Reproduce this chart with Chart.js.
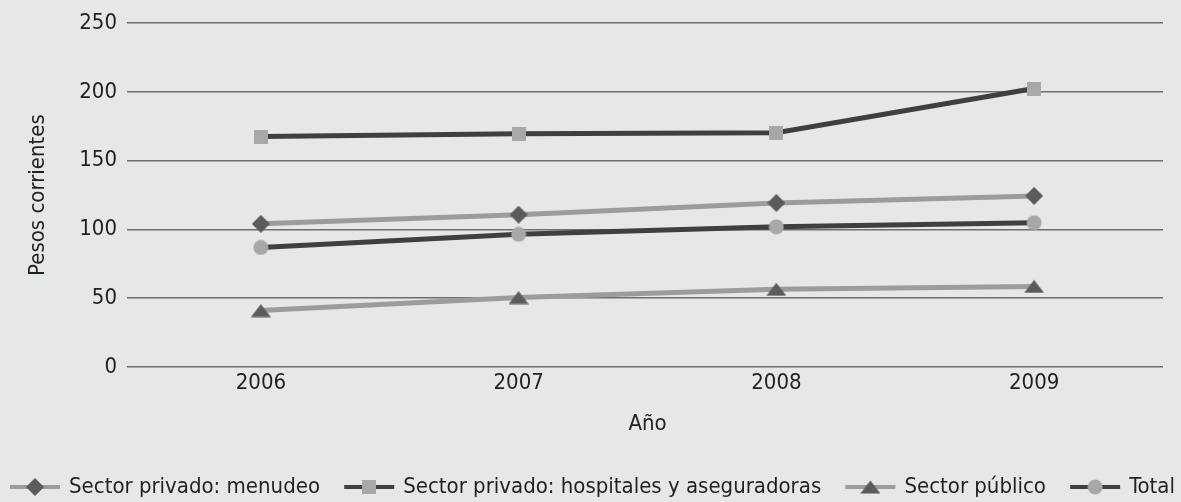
<!DOCTYPE html>
<html lang="es">
<head>
<meta charset="utf-8">
<title>Pesos corrientes por año</title>
<script src="https://cdn.jsdelivr.net/npm/chart.js@4.4.1/dist/chart.umd.min.js"></script>
<style>
  html, body { margin: 0; padding: 0; background: #e6e7e8; }
  #wrap { width: 1181px; height: 502px; }
  canvas { display: block; }
</style>
</head>
<body>
<div id="wrap"><canvas id="chart" width="1181" height="502"></canvas></div>
<script>
// Años y series (pesos corrientes)
const categories = ['2006', '2007', '2008', '2009'];
const menudeo    = [104.1, 110.8, 119.3, 124.4];
const hospitales = [167.6, 169.6, 170.3, 202.5];
const publico    = [41.0, 50.5, 56.5, 58.6];
const total      = [86.9, 96.5, 101.9, 104.9];

const seriesNames = [
  'Sector privado: menudeo',
  'Sector privado: hospitales y aseguradoras',
  'Sector público',
  'Total'
];
const yTicks = [0, 50, 100, 150, 200, 250];
const yTitle = 'Pesos corrientes';
const xTitle = 'Año';

const FONT = '"DejaVu Sans Condensed", "DejaVu Sans", sans-serif';
const FONT_SIZE = 22;
const TEXT = '#231f20';
const GRID = '#6d6e71';
const LIGHT_LINE = '#9b9c9e';
const DARK_LINE = '#3f3f40';
const DARK_MARK = '#5a5b5e';
const LIGHT_MARK = '#a7a8ab';

// Marker sprites used both on the lines and in the legend
function sprite(w, h, draw) {
  const c = document.createElement('canvas');
  c.width = w; c.height = h;
  const g = c.getContext('2d');
  draw(g, w, h);
  return c;
}
const diamond = sprite(18, 18, (g, w, h) => {
  g.fillStyle = DARK_MARK;
  g.beginPath();
  g.moveTo(w / 2, 0); g.lineTo(w, h / 2); g.lineTo(w / 2, h); g.lineTo(0, h / 2);
  g.closePath(); g.fill();
});
const square = sprite(14, 14, (g, w, h) => {
  g.fillStyle = LIGHT_MARK;
  g.fillRect(0, 0, w, h);
});
const triangle = sprite(20, 14, (g, w, h) => {
  g.fillStyle = DARK_MARK;
  g.beginPath();
  g.moveTo(w / 2, 0.5); g.lineTo(w, h - 0.5); g.lineTo(0, h - 0.5);
  g.closePath(); g.fill();
});
const circle = sprite(16, 16, (g, w, h) => {
  g.fillStyle = LIGHT_MARK;
  g.beginPath();
  g.arc(w / 2, h / 2, 7.5, 0, Math.PI * 2);
  g.fill();
});

function series(label, data, lineColor, marker) {
  return {
    label, data,
    borderColor: lineColor,
    backgroundColor: lineColor,
    borderWidth: 5,
    tension: 0,
    pointStyle: marker,
    pointRadius: 8,
    pointHoverRadius: 8,
    clip: false
  };
}

// Legend drawn as one row: line sample with marker, then label,
// spread over a fixed span at the foot of the canvas
const legendRow = {
  id: 'legendRow',
  afterDraw(chart, args, opts) {
    const ctx = chart.ctx;
    ctx.save();
    ctx.font = `${opts.size}px ${opts.family}`;
    ctx.textBaseline = 'middle';
    ctx.textAlign = 'left';
    const items = chart.data.datasets.map(ds => ({ ds, w: ctx.measureText(ds.label).width }));
    const used = items.reduce((s, it) => s + opts.sample + opts.gap + it.w, 0);
    const spacing = Math.min(opts.maxSpacing, (opts.right - opts.left - used) / (items.length - 1));
    const full = used + spacing * (items.length - 1);
    let x = (opts.left + opts.right - full) / 2;
    const y = chart.height - opts.fromBottom;
    items.forEach(({ ds, w }) => {
      ctx.strokeStyle = ds.borderColor;
      ctx.lineWidth = opts.lineWidth;
      ctx.beginPath();
      ctx.moveTo(x, y);
      ctx.lineTo(x + opts.sample, y);
      ctx.stroke();
      const m = ds.pointStyle;
      ctx.drawImage(m, x + opts.sample / 2 - m.width / 2, y - m.height / 2);
      ctx.fillStyle = opts.color;
      ctx.fillText(ds.label, x + opts.sample + opts.gap, y);
      x += opts.sample + opts.gap + w + spacing;
    });
    ctx.restore();
  }
};

new Chart(document.getElementById('chart'), {
  type: 'line',
  data: {
    labels: categories,
    datasets: [
      series(seriesNames[0], menudeo, LIGHT_LINE, diamond),
      series(seriesNames[1], hospitales, DARK_LINE, square),
      series(seriesNames[2], publico, LIGHT_LINE, triangle),
      series(seriesNames[3], total, DARK_LINE, circle)
    ]
  },
  options: {
    responsive: false,
    animation: false,
    devicePixelRatio: 1,
    layout: { padding: { top: 22, right: 18, bottom: 32, left: 0 } },
    plugins: {
      legend: { display: false },
      tooltip: { enabled: false },
      legendRow: {
        family: FONT, size: FONT_SIZE, color: TEXT,
        sample: 50, gap: 9, maxSpacing: 36, lineWidth: 4,
        left: 10, right: 1175, fromBottom: 15
      }
    },
    scales: {
      x: {
        offset: true,
        grid: { display: false, drawTicks: false },
        border: { display: false },
        ticks: { color: TEXT, font: { family: FONT, size: FONT_SIZE }, padding: 3 },
        title: {
          display: true, text: xTitle, color: TEXT,
          font: { family: FONT, size: FONT_SIZE },
          padding: { top: 0, bottom: 33 }
        },
        afterFit(scale) { scale.height = 103; }
      },
      y: {
        min: 0, max: 250,
        afterBuildTicks(scale) { scale.ticks = yTicks.map(v => ({ value: v })); },
        grid: { color: GRID, lineWidth: 1.5, tickLength: 5, tickColor: GRID, drawTicks: true },
        border: { display: false },
        ticks: { color: TEXT, font: { family: FONT, size: FONT_SIZE }, padding: 10 },
        title: {
          display: true, text: yTitle, color: TEXT,
          font: { family: FONT, size: FONT_SIZE },
          padding: { top: 24.8, bottom: 0 }
        },
        afterFit(scale) { scale.width = 132; }
      }
    }
  },
  plugins: [legendRow]
});
</script>
</body>
</html>
